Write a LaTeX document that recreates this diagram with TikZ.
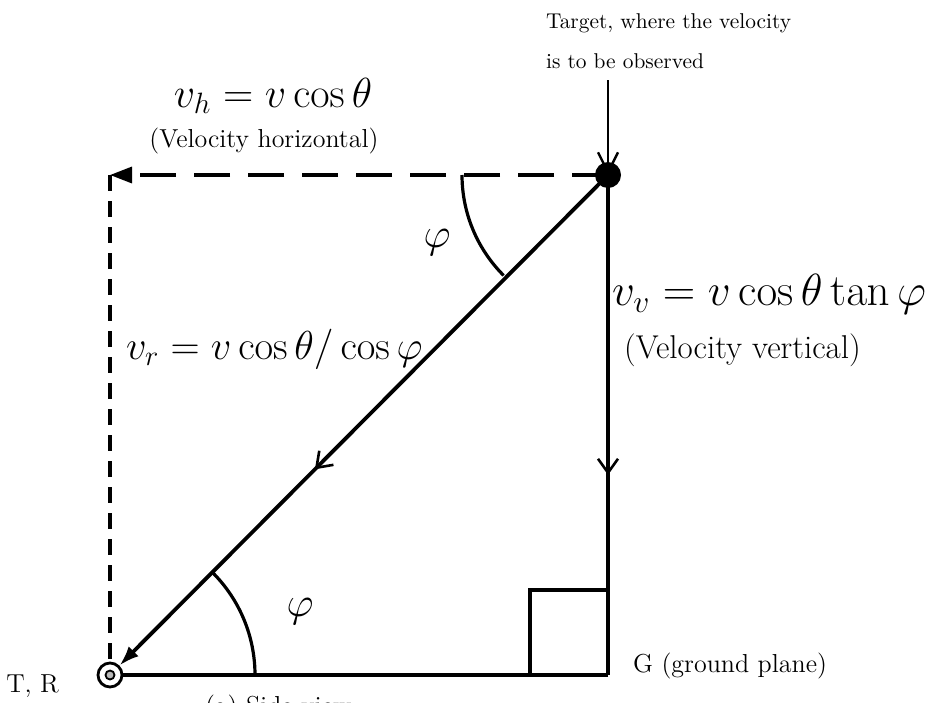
\documentclass[tikz,border=0pt]{standalone}
\usepackage{fix-cm}
\usepackage{amsmath}
\usetikzlibrary{arrows.meta,calc,decorations.markings}

\begin{document}
\begin{tikzpicture}[
    x=0.5pt, y=-0.5pt,
    >=Latex,
    line/.style={line width=1.6pt},
    arr/.style={-{Latex[length=10pt,width=7pt]}, line width=1.9pt},
    dhor/.style={-{Triangle[length=11pt,width=8pt]}, line width=1.6pt, dash pattern=on 18pt off 9pt},
    dver/.style={line width=1.6pt, dash pattern=on 8pt off 5pt},
    midarr/.style={postaction={decorate},
        decoration={markings, mark=at position #1 with {\arrow{Straight Barb[length=7pt,width=10pt,line width=1.3pt]}}}},
    dot/.style={circle, fill=black, minimum size=13pt, inner sep=0pt},
    radar/.style={circle, draw, line width=1.4pt, fill=white, minimum size=12pt, inner sep=0pt},
    note/.style={font=\fontsize{13}{15}\selectfont, align=left},
    eqn/.style={font=\fontsize{21}{25}\selectfont}
]
\useasboundingbox (0,0) rectangle (940,702);

% =========================================================
% 1) POINTS
% =========================================================
\coordinate (top) at (608,80);
\coordinate (gnd) at (608,675);
\coordinate (corner) at (110,175);

% =========================================================
% 2) GEOMETRY
% =========================================================
\draw[dhor] (608,175) -- (corner);
\draw[dver] (corner) -- (110,663);

% Right angle at G
\draw[line] ($(gnd)+(-78,0)$) |- ($(gnd)+(0,-85)$);

% Arrow from above into the target
\draw[-{Straight Barb[length=10pt,width=10pt,line width=1.2pt]}, line width=1.3pt] (top) -- (608,175);

\node[dot] (tgt) at (608,175) {};
\node[radar] (tr) at (110,675) {};
\node[circle, draw, line width=0.9pt, fill=gray!55, minimum size=4.5pt, inner sep=0pt] (trin) at (tr) {};

\draw[line, midarr=0.6] (tgt.center) -- (gnd);
\draw[line] (gnd) -- (tr.east);
\draw[arr, midarr=0.6] (tgt.center) -- (tr.north east);

% angles
\draw[line] ($(tgt.center)+(-146,0)$) arc[start angle=180, end angle=225, radius=71pt];
\draw[line] ($(tr.center)+(145,0)$) arc[start angle=0, end angle=45, radius=72.5pt];
\node[eqn] (phitop) at (437,243) {$\varphi$};
\node[eqn] (phibot) at (300,612) {$\varphi$};

% =========================================================
% 3) LABELS
% =========================================================
\node[note, font=\fontsize{10.7}{13}\selectfont, anchor=west] (tgtlbl) at (539,41)
{Target, where the velocity\\[7pt]is to be observed};

\node[eqn] (vh) at (273,96) {$v_h = v\cos\theta$};
\node[note] (vhlbl) at (264,141) {(Velocity horizontal)};

\node[eqn, font=\fontsize{22.5}{27}\selectfont, anchor=west] (vv) at (605,294) {$v_v = v\cos\theta\tan\varphi$};
\node[note, font=\fontsize{16.5}{19}\selectfont, anchor=west] (vvlbl) at (617,350) {(Velocity vertical)};

\node[eqn, font=\fontsize{20.2}{24}\selectfont, anchor=west] (vr) at (119,349) {$v_r = v\cos\theta/\cos\varphi$};

\node[note, anchor=east] (trlbl) at (66,686) {T, R};
\node[note, anchor=west] (glbl) at (626,666) {G (ground plane)};
\node[note, anchor=north west] (cap) at (198,688) {(a) Side view};

\end{tikzpicture}
\end{document}
